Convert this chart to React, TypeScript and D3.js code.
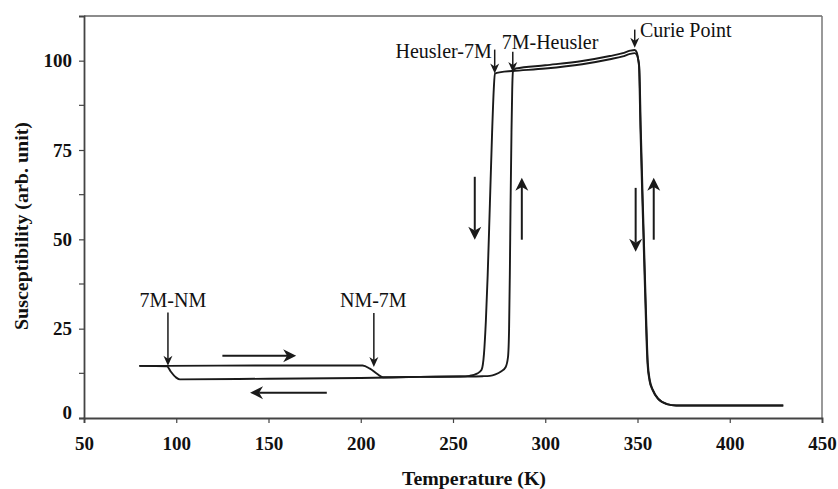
import React, {useEffect, useRef} from 'react';
import * as d3 from 'd3';

// heating run (upper branch at low T / upper plateau)
const heatT = [80, 95, 150, 201, 205, 209, 212, 232, 254, 266, 270, 273, 276, 278.5, 279.8,
  280.4, 280.8, 281.2, 281.7, 282.1, 282.5, 284, 300, 320, 335, 342, 346, 348.5, 349.6, 350.3,
  350.8, 351.6, 352.7, 353.9, 355.4, 356.5, 358.2, 361, 365.8, 371, 400, 429];
const heatChi = [14.6, 14.6, 14.7, 14.7, 13.8, 12.3, 11.4, 11.5, 11.6, 11.7, 11.8, 12.2, 13.0, 14.2, 17,
  25, 40, 60, 80, 92, 96.9, 97.8, 98.7, 99.9, 101.3, 102.1, 102.8, 103.0, 102.3, 100.5,
  98.5, 80.7, 60, 38.7, 15.4, 10.5, 7.8, 5.4, 3.9, 3.5, 3.5, 3.5];

// cooling run (lower branch)
const coolT = [80, 95, 97, 100, 102, 150, 200, 232, 254, 259, 263, 265.5, 266.8, 267.8, 268.8,
  270, 271.2, 272.1, 272.7, 276, 282, 300, 320, 335, 342, 346, 348.5, 349.8, 350.5, 351,
  351.8, 352.9, 354.1, 355.6, 356.7, 358.4, 361.2, 366, 371, 400, 429];
const coolChi = [14.6, 14.5, 13.0, 11.3, 10.8, 11.0, 11.2, 11.5, 11.6, 11.8, 12.4, 13.5, 18, 27, 40,
  60, 80, 92, 96.4, 96.8, 97.1, 97.8, 99.0, 100.4, 101.2, 101.9, 102.1, 101.5, 100, 98,
  80.7, 60, 38.7, 15.4, 10.5, 7.8, 5.4, 3.9, 3.5, 3.5, 3.5];

const xTicks = [50, 100, 150, 200, 250, 300, 350, 400, 450];
const yTicks = [0, 25, 50, 75, 100];
const yMinor = [12.5, 37.5, 62.5, 87.5];

// transition labels: text anchor point, arrow x and its top / tip values
const noteText = ['7M-NM', 'NM-7M', 'Heusler-7M', '7M-Heusler', 'Curie Point'];
const noteTextT = [98.2, 206.8, 271, 276.4, 351.3];
const noteTextChi = [31.1, 31.1, 100.7, 103.3, 106.6];
const noteAnchor = ['middle', 'middle', 'end', 'start', 'start'];
const noteArrowT = [95.5, 207.1, 272.6, 282.4, 348.5];
const noteArrowTop = [29.5, 29.4, 103.1, 102.5, 108.7];
const noteArrowTip = [14.6, 14.3, 96.4, 96.8, 103.6];

// heating / cooling direction arrows [fromT, fromChi, toT, toChi]
const flowArrows = [
  [125, 17.4, 165, 17.4],
  [181.6, 7.1, 140, 7.1],
  [261.8, 67.5, 261.8, 49.9],
  [287.3, 49.9, 287.3, 67.2],
  [349, 64.4, 349, 46.5],
  [358.8, 49.9, 358.8, 67.2],
];

const FONT = '"Liberation Serif", "Times New Roman", serif';

function headPath(x1: number, y1: number, x2: number, y2: number, len: number, half: number) {
  const d = Math.hypot(x2 - x1, y2 - y1);
  const ux = (x2 - x1) / d;
  const uy = (y2 - y1) / d;
  const nx = -uy;
  const ny = ux;
  const bx = x2 - ux * len;
  const by = y2 - uy * len;
  const mx = x2 - ux * len * 0.7;
  const my = y2 - uy * len * 0.7;
  return `M${x2},${y2}L${bx + nx * half},${by + ny * half}L${mx},${my}` +
    `L${bx - nx * half},${by - ny * half}Z`;
}

export default function App() {
  const ref = useRef<SVGSVGElement>(null);

  useEffect(() => {
    const svg = d3.select(ref.current);
    svg.selectAll('*').remove();

    const x = d3.scaleLinear().domain([50, 450]).range([84, 822]);
    const y = d3.scaleLinear().domain([0, 112.5]).range([418, 16]);

    // frame
    svg.append('line')
        .attr('x1', 84).attr('x2', 822).attr('y1', y(112.5)).attr('y2', y(112.5))
        .attr('stroke', '#666').attr('stroke-width', 1.5);
    svg.append('line')
        .attr('x1', 822).attr('x2', 822).attr('y1', y(112.5)).attr('y2', y(0))
        .attr('stroke', '#777').attr('stroke-width', 1.5);

    // axes
    const gx = svg.append('g')
        .attr('transform', `translate(0,${y(0)})`)
        .call(d3.axisBottom(x).tickValues(xTicks).tickSize(5).tickPadding(10)
            .tickFormat(d3.format('d')));
    const gy = svg.append('g')
        .attr('transform', `translate(${x(50)},0)`)
        .call(d3.axisLeft(y).tickValues(yTicks).tickSize(5).tickPadding(7)
            .tickFormat(d3.format('d')));
    gy.selectAll('.minor')
        .data(yMinor)
        .join('line')
        .attr('class', 'minor')
        .attr('x1', -5).attr('x2', 0)
        .attr('y1', (d) => y(d)).attr('y2', (d) => y(d))
        .attr('stroke', '#444').attr('stroke-width', 1.2);
    [gx, gy].forEach((g) => {
      g.attr('font-family', FONT);
      g.select('.domain').attr('stroke', '#444').attr('stroke-width', 1.8);
      g.selectAll('.tick line').attr('stroke', '#444').attr('stroke-width', 1.2);
      g.selectAll('.tick text')
          .attr('fill', '#111')
          .style('font-family', FONT)
          .style('font-size', '19px')
          .style('font-weight', 'bold');
    });
    gx.selectAll('.tick text').attr('dy', '0.9em');
    gy.selectAll('.tick text').filter((d: any) => d === 0).attr('dy', '0.05em');

    // curves
    const draw = (ts: number[], vs: number[]) => {
      const pts = ts.map((t, i) => [x(t), y(vs[i])] as [number, number]);
      svg.append('path')
          .attr('d', d3.line().curve(d3.curveMonotoneX)(pts))
          .attr('fill', 'none')
          .attr('stroke', '#1a1a1a')
          .attr('stroke-width', 1.9)
          .attr('stroke-linejoin', 'round');
    };
    draw(coolT, coolChi);
    draw(heatT, heatChi);

    // direction arrows
    flowArrows.forEach((a) => {
      const x1 = x(a[0]);
      const y1 = y(a[1]);
      const x2 = x(a[2]);
      const y2 = y(a[3]);
      const len = 13;
      const d = Math.hypot(x2 - x1, y2 - y1);
      svg.append('line')
          .attr('x1', x1).attr('y1', y1)
          .attr('x2', x2 - (x2 - x1) / d * len * 0.7)
          .attr('y2', y2 - (y2 - y1) / d * len * 0.7)
          .attr('stroke', '#1a1a1a').attr('stroke-width', 2);
      svg.append('path')
          .attr('d', headPath(x1, y1, x2, y2, len, 6.5))
          .attr('fill', '#1a1a1a');
    });

    // transition annotations
    noteText.forEach((txt, i) => {
      const ax = x(noteArrowT[i]);
      const y1 = y(noteArrowTop[i]);
      const y2 = y(noteArrowTip[i]);
      svg.append('line')
          .attr('x1', ax).attr('x2', ax)
          .attr('y1', y1).attr('y2', y2 - 6)
          .attr('stroke', '#1a1a1a').attr('stroke-width', 1.5);
      svg.append('path')
          .attr('d', headPath(ax, y1, ax, y2, 10, 4.5))
          .attr('fill', '#1a1a1a');
      svg.append('text')
          .attr('x', x(noteTextT[i]))
          .attr('y', y(noteTextChi[i]))
          .attr('text-anchor', noteAnchor[i])
          .style('font-family', FONT)
          .style('font-size', '20px')
          .attr('fill', '#111')
          .text(txt);
    });

    // axis titles
    svg.append('text')
        .attr('x', 474)
        .attr('y', 485)
        .attr('text-anchor', 'middle')
        .attr('textLength', 144)
        .attr('lengthAdjust', 'spacingAndGlyphs')
        .style('font-family', FONT)
        .style('font-size', '19px')
        .style('font-weight', 'bold')
        .attr('fill', '#111')
        .text('Temperature (K)');
    svg.append('text')
        .attr('transform', 'translate(28,226) rotate(-90)')
        .attr('text-anchor', 'middle')
        .attr('textLength', 208)
        .attr('lengthAdjust', 'spacingAndGlyphs')
        .style('font-family', FONT)
        .style('font-size', '19px')
        .style('font-weight', 'bold')
        .attr('fill', '#111')
        .text('Susceptibility (arb. unit)');
  }, []);

  return (
    <svg ref={ref} width={838} height={489}
      style={{position: 'absolute', left: 0, top: 0, background: '#fff'}} />
  );
}
